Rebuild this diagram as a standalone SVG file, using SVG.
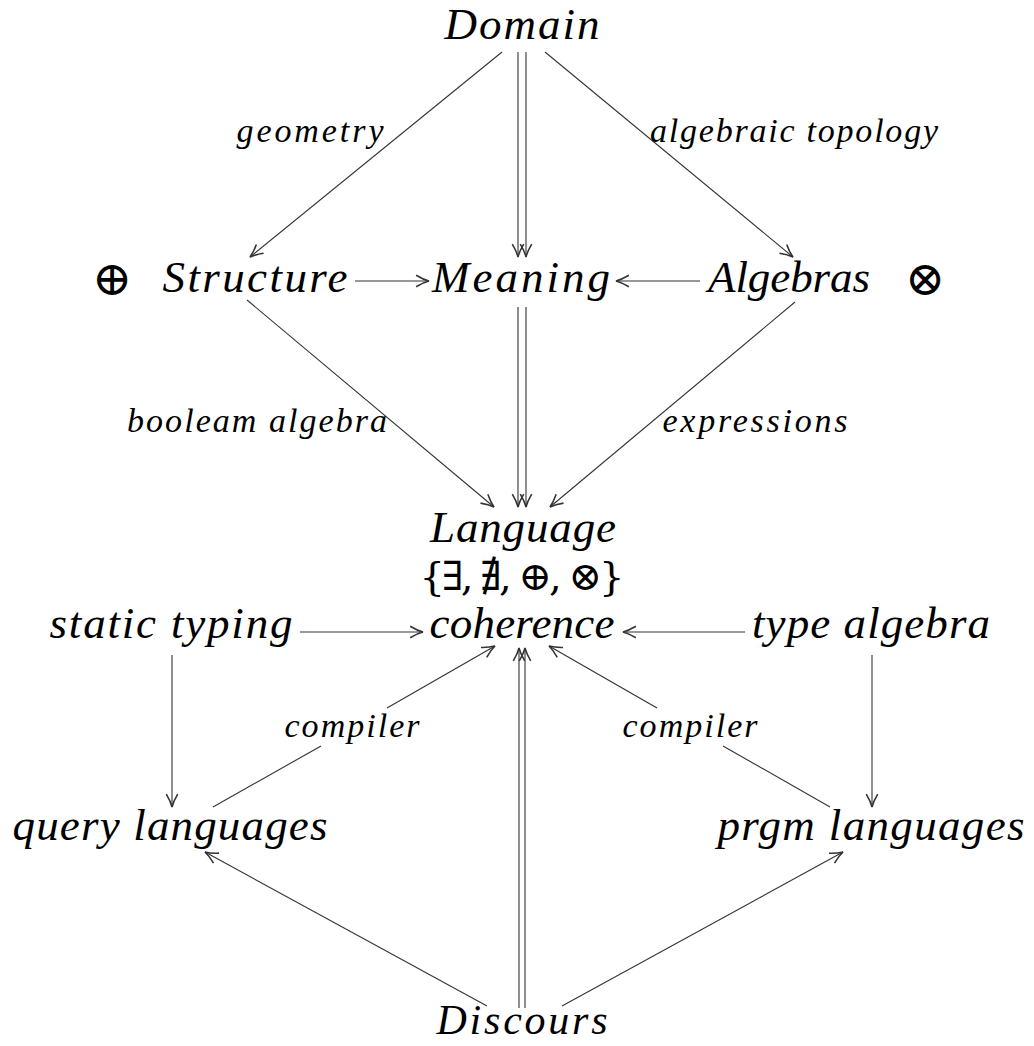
<svg xmlns="http://www.w3.org/2000/svg" width="1034" height="1046" viewBox="0 0 1034 1046">
<style>
.n{font-family:"Liberation Serif","Times New Roman",serif;font-style:italic;font-size:45px;fill:#000;text-anchor:middle}
.l{font-family:"Liberation Serif","Times New Roman",serif;font-style:italic;font-size:34px;fill:#000;text-anchor:middle}
.s{font-family:"DejaVu Serif","DejaVu Sans",serif;font-size:40px;fill:#000;text-anchor:middle}
.o{font-family:"DejaVu Serif","DejaVu Sans",serif;font-size:48px;fill:#000;text-anchor:middle}
.c path{fill:none;stroke:#333;stroke-width:1.1}
</style>
<defs>
<marker id="ah" markerUnits="userSpaceOnUse" markerWidth="20" markerHeight="20" viewBox="-12 -6 14 12" refX="0" refY="0" orient="auto">
<path d="M-9,-4 Q-4,-1 0,0 Q-4,1 -9,4" fill="none" stroke="#333" stroke-width="1.1"/>
</marker>
</defs>
<rect width="1034" height="1046" fill="#fff"/>
<g id="connectors" class="c">
<path d="M502,52 L250,257" marker-end="url(#ah)"/>
<path d="M545,52 L793,257" marker-end="url(#ah)"/>
<path d="M518,52 L518,257" marker-end="url(#ah)"/>
<path d="M526,52 L526,257" marker-end="url(#ah)"/>
<path d="M355,281 L429,281" marker-end="url(#ah)"/>
<path d="M700,281 L616,281" marker-end="url(#ah)"/>
<path d="M518,307 L518,507" marker-end="url(#ah)"/>
<path d="M526,307 L526,507" marker-end="url(#ah)"/>
<path d="M247,300 L494,507" marker-end="url(#ah)"/>
<path d="M795,302 L550,507" marker-end="url(#ah)"/>
<path d="M300,632 L423,632" marker-end="url(#ah)"/>
<path d="M745,632 L623,632" marker-end="url(#ah)"/>
<path d="M172,655 L172,807" marker-end="url(#ah)"/>
<path d="M872,655 L872,807" marker-end="url(#ah)"/>
<path d="M519,1008 L519,648" marker-end="url(#ah)"/>
<path d="M525,1008 L525,648" marker-end="url(#ah)"/>
<path d="M487,1006 L205,852" marker-end="url(#ah)"/>
<path d="M562,1006 L843,852" marker-end="url(#ah)"/>
<path d="M213,807 L321,746"/>
<path d="M387,708 L495,646" marker-end="url(#ah)"/>
<path d="M830,807 L723,746"/>
<path d="M657,708 L549,646" marker-end="url(#ah)"/>
</g>
<g id="labels">
<text class="l" x="310" y="142" textLength="147">geometry</text>
<text class="l" x="794" y="142" textLength="288">algebraic topology</text>
<text class="l" x="257" y="432" textLength="260">booleam algebra</text>
<text class="l" x="755" y="432" textLength="185">expressions</text>
<text class="l" x="352" y="737" textLength="135">compiler</text>
<text class="l" x="690" y="737" textLength="135">compiler</text>
</g>
<g id="domain"><text class="n" x="522" y="39" textLength="155">Domain</text></g>
<g id="oplus"><text class="o" x="112" y="295">⊕</text></g>
<g id="structure"><text class="n" x="255" y="292" textLength="185">Structure</text></g>
<g id="meaning"><text class="n" x="521" y="292" textLength="178">Meaning</text></g>
<g id="algebras"><text class="n" x="789" y="292" textLength="162">Algebras</text></g>
<g id="otimes"><text class="o" x="925" y="295">⊗</text></g>
<g id="language">
<text class="n" x="523" y="542" textLength="186">Language</text>
<text class="s" x="522" y="590" textLength="205">{∃, ∄, ⊕, ⊗}</text>
</g>
<g id="coherence"><text class="n" x="522" y="638" textLength="185">coherence</text></g>
<g id="static-typing"><text class="n" x="171" y="638" textLength="243">static typing</text></g>
<g id="type-algebra"><text class="n" x="871" y="638" textLength="238">type algebra</text></g>
<g id="query-languages"><text class="n" x="170" y="840" textLength="315">query languages</text></g>
<g id="prgm-languages"><text class="n" x="871" y="840" textLength="307">prgm languages</text></g>
<g id="discours"><text class="n" x="522" y="1034" textLength="171" style="font-size:42px">Discours</text></g>
</svg>
